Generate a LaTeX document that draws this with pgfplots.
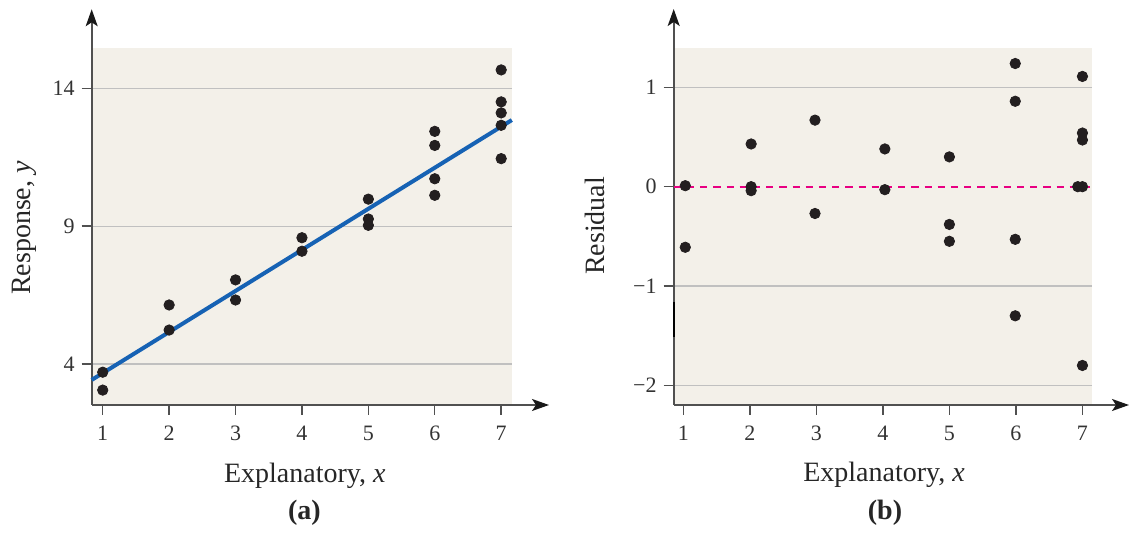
\documentclass[border=0pt]{standalone}
\usepackage{fontspec}
\setmainfont{Liberation Serif}
\usepackage{pgfplots}
\pgfplotsset{compat=1.18}
\usetikzlibrary{arrows.meta}
\definecolor{bgc}{RGB}{243,240,233}
\definecolor{gridc}{RGB}{192,192,192}
\definecolor{axc}{RGB}{80,80,80}
\definecolor{fitblue}{RGB}{22,98,180}
\definecolor{zeropink}{RGB}{232,0,130}
\definecolor{dotc}{RGB}{35,31,32}

\pgfplotsset{
  myaxis/.style={
    set layers=standard,
    clip=false,
    scale only axis,
    anchor=south west,
    axis lines=left,
    axis line style={axc, line width=0.8pt},
    every outer x axis line/.append style={-{Stealth[length=8.5pt,width=6pt,inset=2pt,color=black!90]}},
    every outer y axis line/.append style={-{Stealth[length=8.5pt,width=6pt,inset=2pt,color=black!90]}},
    every inner x axis line/.append style={-{Stealth[length=8.5pt,width=6pt,inset=2pt,color=black!90]}},
    every inner y axis line/.append style={-{Stealth[length=8.5pt,width=6pt,inset=2pt,color=black!90]}},
    tick style={axc, line width=0.7pt},
    tick align=outside,
    major tick length=5pt,
    xtick={1,2,3,4,5,6,7},
    /pgf/number format/assume math mode=true,
    ticklabel style={font=\fontsize{11}{13}\selectfont, text=black!80},
    xticklabel style={yshift=-2pt},
    label style={font=\fontsize{14}{16}\selectfont, text=black!85, inner sep=0pt},
    xlabel={Explanatory, \textit{x}},
  },
  dots/.style={only marks, mark=*, mark size=2.6pt, color=dotc, mark options={fill=dotc, draw=dotc}},
}

\begin{document}
\begin{tikzpicture}
\path (0pt,0pt) rectangle (565pt,267.5pt);

% ---------- (a) ----------
\begin{axis}[myaxis,
  at={(45.85pt,65pt)},
  width=228.65pt, height=197.85pt,
  xmin=0.834, xmax=7.72, ymin=2.51, ymax=16.87,
  ytick={4,9,14},
  ylabel={Response, \textit{y}},
  xlabel style={at={(axis description cs:0.466,-0.1946)}, anchor=base},
  ylabel style={at={(axis description cs:-0.133,0.447)}, anchor=base, rotate=0},
]
\begin{pgfonlayer}{axis background}
\fill[bgc] (axis cs:0.834,2.51) rectangle (axis cs:7.16,15.45);
\end{pgfonlayer}
\begin{pgfonlayer}{axis grid}
\draw[gridc, line width=0.6pt] (axis cs:0.834,4) -- (axis cs:7.16,4);
\draw[gridc, line width=0.6pt] (axis cs:0.834,9) -- (axis cs:7.16,9);
\draw[gridc, line width=0.6pt] (axis cs:0.834,14) -- (axis cs:7.16,14);
\end{pgfonlayer}
\addplot[fitblue, line width=2pt] coordinates {(0.834,3.42) (7.16,12.85)};
\addplot[dots] coordinates {
(1,3.70) (1,3.05)
(2,6.14) (2,5.23)
(3,7.05) (3,6.32)
(4,8.58) (4,8.09)
(5,9.98) (5,9.26) (5,9.03)
(6,12.44) (6,11.93) (6,10.72) (6,10.12)
(7,14.67) (7,13.51) (7,13.11) (7,12.66) (7,11.45)
};
\node[anchor=base, font=\fontsize{14}{16}\selectfont\bfseries, text=black!85] at (axis description cs:0.465,-0.2906) {(a)};
\end{axis}

% ---------- (b) ----------
\begin{axis}[myaxis,
  at={(336.85pt,65pt)},
  width=227.65pt, height=198pt,
  xmin=0.856, xmax=7.70, ymin=-2.198, ymax=1.789,
  ytick={-2,-1,0,1},
  yticklabels={−2,−1,0,1},
  ylabel={Residual},
  xlabel style={at={(axis description cs:0.462,-0.1944)}, anchor=base},
  ylabel style={at={(axis description cs:-0.151,0.452)}, anchor=base, rotate=0},
]
\begin{pgfonlayer}{axis background}
\fill[bgc] (axis cs:0.856,-2.198) rectangle (axis cs:7.15,1.393);
\end{pgfonlayer}
\begin{pgfonlayer}{axis grid}
\draw[gridc, line width=0.6pt] (axis cs:0.856,1) -- (axis cs:7.15,1);
\draw[gridc, line width=0.6pt] (axis cs:0.856,-1) -- (axis cs:7.15,-1);
\draw[gridc, line width=0.6pt] (axis cs:0.856,-2) -- (axis cs:7.15,-2);
\end{pgfonlayer}
\addplot[zeropink, line width=0.9pt, dash pattern=on 3.6pt off 3pt] coordinates {(0.856,0) (7.18,0)};
\addplot[dots] coordinates {
(1.03,0.01) (1.03,-0.61)
(2.02,0.43) (2.02,0.00) (2.02,-0.04)
(2.98,0.67) (2.98,-0.27)
(4.03,0.38) (4.03,-0.03)
(5,0.30) (5,-0.38) (5,-0.55)
(5.99,1.24) (5.99,0.86) (5.99,-0.53) (5.99,-1.30)
(7,1.11) (7,0.54) (7,0.47) (6.93,0.0) (7,0.0) (7,-1.80)
};
\draw[black, line width=0.9pt] (axis cs:0.856,-1.16) -- (axis cs:0.856,-1.51);
\node[anchor=base, font=\fontsize{14}{16}\selectfont\bfseries, text=black!85] at (axis description cs:0.464,-0.290) {(b)};
\end{axis}
\end{tikzpicture}
\end{document}
